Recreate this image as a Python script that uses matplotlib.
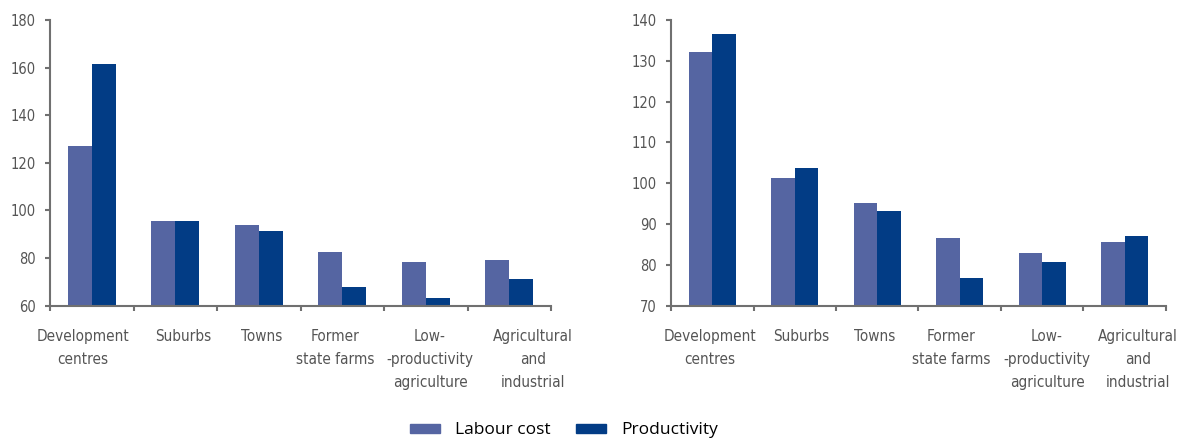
import numpy as np
import matplotlib
matplotlib.use("Agg")
import matplotlib.pyplot as plt
from matplotlib.patches import Patch
from matplotlib.transforms import blended_transform_factory

categories = ["Development\ncentres", "Suburbs", "Towns", "Former\nstate farms",
              "Low-\n-productivity\nagriculture", "Agricultural\nand\nindustrial"]

# left panel
left_labour = [127, 95.4, 94.1, 82.7, 78.5, 79.0]
left_productivity = [161.5, 95.4, 91.2, 68.0, 63.4, 71.4]
left_ylim = (60, 180)
left_yticks = [60, 80, 100, 120, 140, 160, 180]
left_label_pos = [-0.105, 1.093, 2.039, 2.913, 4.051, 5.284]

# right panel
right_labour = [132.1, 101.4, 95.1, 86.5, 83.0, 85.7]
right_productivity = [136.6, 103.7, 93.1, 76.9, 80.8, 87.2]
right_ylim = (70, 140)
right_yticks = [70, 80, 90, 100, 110, 120, 130, 140]
right_label_pos = [-0.027, 1.076, 1.973, 2.894, 4.058, 5.161]

labour_color = "#5565a2"
prod_color = "#023c85"
axis_color = "#707070"
text_color = "#555555"
plt.rcParams['font.family'] = ["DejaVu Sans"]
plt.rcParams['font.stretch'] = 'condensed'

fig = plt.figure(figsize=(11.91, 4.41), dpi=100)
ax1 = fig.add_axes([0.04198, 0.3068, 0.4207, 0.6478])
ax2 = fig.add_axes([0.5634, 0.3068, 0.4156, 0.6478])

def draw(ax, labour, prod, ylim, yticks, label_pos):
    x = np.arange(len(categories))
    w = 0.287
    ax.bar(x - w / 2, np.array(labour) - ylim[0], w, bottom=ylim[0], color=labour_color)
    ax.bar(x + w / 2, np.array(prod) - ylim[0], w, bottom=ylim[0], color=prod_color)
    ax.set_xlim(-0.5, len(categories) - 0.5)
    ax.set_ylim(*ylim)
    ax.set_yticks(yticks)
    ax.set_xticks(np.arange(-0.5, len(categories)))
    ax.set_xticklabels([])
    ax.tick_params(axis='x', length=3.5, width=1.5, color=axis_color, direction='out')
    ax.tick_params(axis='y', length=3.5, width=1.5, color=axis_color, pad=7,
                   labelsize=10.5, labelcolor=text_color)
    # category labels, spread out as in the original
    tr = blended_transform_factory(ax.transData, ax.transAxes)
    for lab, px in zip(categories, label_pos):
        ax.annotate(lab, (px, 0), xycoords=tr, xytext=(0, -16.5), textcoords='offset points',
                    ha='center', va='top', fontsize=11, color=text_color,
                    linespacing=1.67, annotation_clip=False)
    for s in ['top', 'right']:
        ax.spines[s].set_visible(False)
    for s in ['left', 'bottom']:
        ax.spines[s].set_color(axis_color)
        ax.spines[s].set_linewidth(1.5)

draw(ax1, left_labour, left_productivity, left_ylim, left_yticks, left_label_pos)
draw(ax2, right_labour, right_productivity, right_ylim, right_yticks, right_label_pos)

handles = [Patch(color=labour_color, label="Labour cost"),
           Patch(color=prod_color, label="Productivity")]
fig.legend(handles=handles, loc='center', bbox_to_anchor=(0.4736, 0.024), ncol=2,
           frameon=False, handlelength=1.72, handleheight=0.46, handletextpad=0.85,
           columnspacing=1.5, prop={'family': ["Open Sans", "DejaVu Sans"], 'size': 12.5,
                                    'stretch': 'normal'})

fig.savefig("out.png", dpi=100)
